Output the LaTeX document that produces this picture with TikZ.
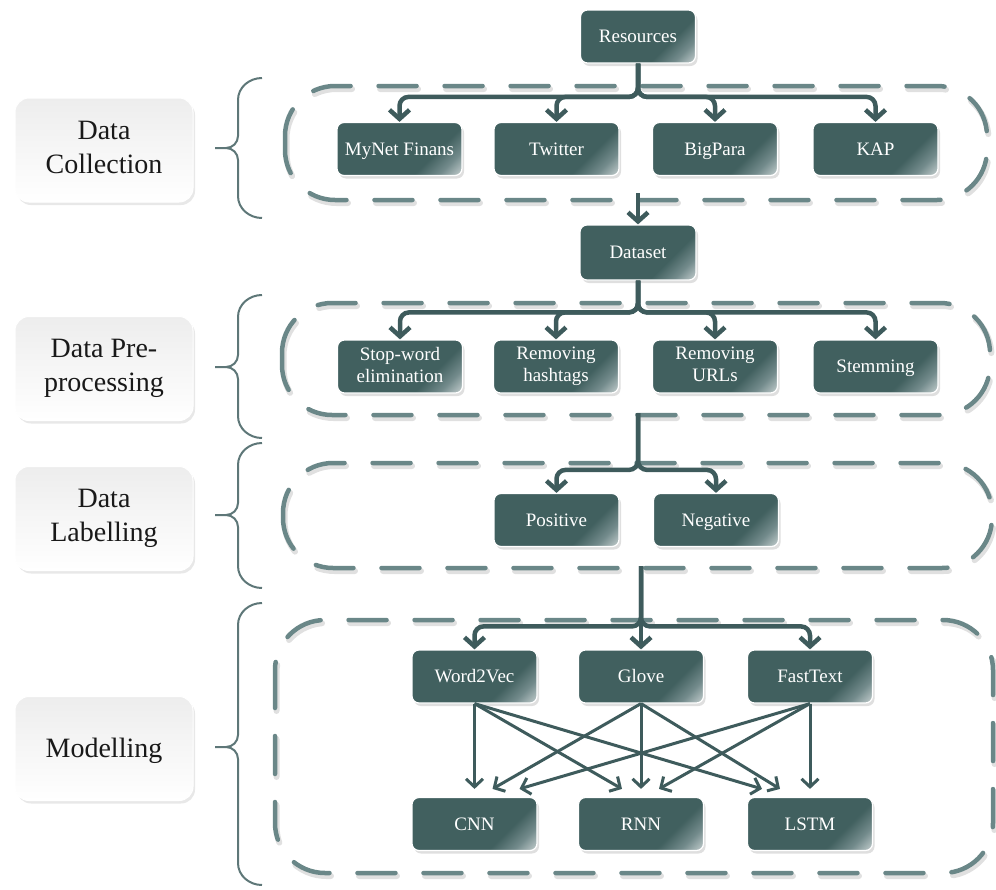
\documentclass[tikz,border=0pt]{standalone}
\usepackage{fontspec}
\setmainfont{Liberation Serif}
\newfontfamily\tnr{Liberation Serif}
\usetikzlibrary{arrows.meta,shadows,calc}
\definecolor{boxdark}{HTML}{41605F}
\definecolor{boxmid}{HTML}{738B8C}
\definecolor{boxlight}{HTML}{CBD4D4}
\definecolor{linec}{HTML}{3E5B5C}
\definecolor{dashc}{HTML}{6A8788}
\definecolor{bracec}{HTML}{5E7778}
\pgfdeclarehorizontalshading{boxshade}{100bp}{color(0bp)=(boxdark); color(66bp)=(boxdark); color(76bp)=(boxmid); color(86bp)=(boxlight); color(100bp)=(boxlight)}
\tikzset{
  dbox/.style={rectangle, rounded corners=7pt, minimum width=125pt, minimum height=53pt,
    inner sep=2pt, align=center, text=white, font=\tnr\fontsize{19}{22}\selectfont,
    execute at begin node={\rule{0pt}{16.7pt}}, execute at end node={\vphantom{g}},
    draw=white, line width=1.2pt, shading=boxshade, shading angle=-45,
    drop shadow={opacity=0.25, shadow xshift=2pt, shadow yshift=-3pt}},
  lbox/.style={rectangle, rounded corners=14pt, minimum width=178pt, minimum height=104pt,
    align=center, font=\tnr\fontsize{28}{34}\selectfont, text=black!90,
    execute at begin node={\rule{0pt}{24.6pt}}, execute at end node={\vphantom{g}},
    top color=black!7, bottom color=white, draw=white, line width=1pt,
    drop shadow={opacity=0.18, shadow xshift=2pt, shadow yshift=-3pt}},
  region/.style={draw=dashc, line width=4.5pt, line cap=round, dash pattern=on 38pt off 28pt, rounded corners=50pt},
  regionsh/.style={draw=black!12, line width=6pt, line cap=round, dash pattern=on 38pt off 28pt, rounded corners=50pt},
  branch/.style={draw=linec, line width=4.5pt, rounded corners=9pt, -{Straight Barb[length=9pt,width=20pt]}},
  thinarr/.style={draw=linec, line width=3pt, -{Straight Barb[length=8pt,width=17pt]}},
  bracestyle/.style={draw=bracec, line width=2pt}
}
\begin{document}
\begin{tikzpicture}[x=1pt,y=1pt]
\useasboundingbox (0,0) rectangle (996,-889);
% dashed regions
\foreach \l/\t/\r/\b in {285/86/987/200, 282/303/990/415, 283/463/992/568, 275/620/993/873}{
  \draw[regionsh] (\l+1.5,-\t-3) rectangle (\r+1.5,-\b-3);
  \draw[region] (\l,-\t) rectangle (\r,-\b);
}
% braces
\foreach \t/\m/\b in {78/148/218, 295/367/438, 443/515/588, 603/747/885}{
  \draw[bracestyle] (262,-\t) to[out=180,in=90] (238,-\t-22) -- (238,-\m+12) to[out=-90,in=0] (226,-\m) -- (215,-\m);
  \draw[bracestyle] (226,-\m) to[out=0,in=90] (238,-\m-12) -- (238,-\b+22) to[out=-90,in=180] (262,-\b);
}
% left labels
\node[lbox] (lcol) at (104,-150) {Data\\Collection};
\node[lbox] (lpre) at (104,-368.5) {Data Pre-\\processing};
\node[lbox] (llab) at (104,-518.5) {Data\\Labelling};
\node[lbox] (lmod) at (104,-748.5) {Modelling};
% boxes
\node[dbox, minimum width=115pt] (res) at (638,-36.5) {Resources};
\node[dbox] (myn) at (399.5,-149) {MyNet Finans};
\node[dbox] (twi) at (556.5,-149) {Twitter};
\node[dbox] (big) at (715,-149) {BigPara};
\node[dbox] (kap) at (875.5,-149) {KAP};
\node[dbox, minimum width=116pt, minimum height=55pt] (dat) at (638,-252.5) {Dataset};
\node[dbox] (stop) at (400,-366.5) {Stop-word\\elimination};
\node[dbox] (hash) at (556,-366.5) {Removing\\hashtags};
\node[dbox] (url) at (715,-366.5) {Removing\\URLs};
\node[dbox] (stem) at (875.5,-366.5) {Stemming};
\node[dbox] (pos) at (556.5,-520) {Positive};
\node[dbox] (neg) at (716,-520) {Negative};
\node[dbox] (w2v) at (474.5,-676.5) {Word2Vec};
\node[dbox] (glo) at (641,-676.5) {Glove};
\node[dbox] (fas) at (810,-676.5) {FastText};
\node[dbox] (cnn) at (474.5,-824) {CNN};
\node[dbox] (rnn) at (641,-824) {RNN};
\node[dbox] (lst) at (810,-824) {LSTM};
% connectors
\foreach \c in {myn,twi,big,kap}{
  \draw[branch] (res.south) |- ($(\c.north)+(0,25)$) -- (\c.north);
}
\coordinate (dcb) at (638,-193);
\draw[branch] (dcb) -- (dat.north);
\foreach \c in {stop,hash,url,stem}{
  \draw[branch] (dat.south) |- ($(\c.north)+(0,27)$) -- (\c.north);
}
\coordinate (ppb) at (638,-413);
\foreach \c in {pos,neg}{
  \draw[branch] (ppb) |- ($(\c.north)+(0,23)$) -- (\c.north);
}
\coordinate (lbb) at (641,-566);
\foreach \c in {w2v,fas}{
  \draw[branch] (lbb) |- ($(\c.north)+(0,23)$) -- (\c.north);
}
\draw[branch] (lbb) -- (glo.north);
% model crossings
\draw[thinarr] (w2v.south) -- ($(cnn.north)+(0,8)$);
\draw[thinarr] (w2v.south) -- ($(rnn.north)+(-19,8)$);
\draw[thinarr] (w2v.south) -- ($(lst.north)+(-48,8)$);
\draw[thinarr] (glo.south) -- ($(cnn.north)+(18,8)$);
\draw[thinarr] (glo.south) -- ($(rnn.north)+(0,8)$);
\draw[thinarr] (glo.south) -- ($(lst.north)+(-30,8)$);
\draw[thinarr] (fas.south) -- ($(cnn.north)+(45,8)$);
\draw[thinarr] (fas.south) -- ($(rnn.north)+(18,8)$);
\draw[thinarr] (fas.south) -- ($(lst.north)+(0,8)$);
\end{tikzpicture}
\end{document}
